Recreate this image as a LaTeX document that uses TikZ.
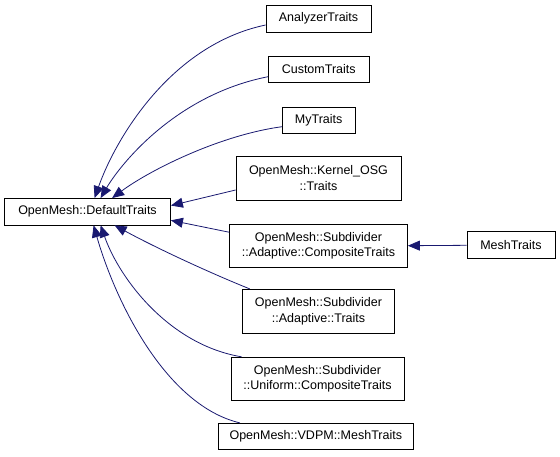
\documentclass[tikz,border=0pt]{standalone}
\usepackage{fontspec}
\setmainfont{Liberation Sans}
\usetikzlibrary{arrows.meta}
\definecolor{edgecol}{HTML}{191970}
\begin{document}
\begin{tikzpicture}[x=1pt,y=-1pt,
  box/.style={draw=black, line width=0.8pt, fill=white, inner sep=0pt, align=center,
    font=\fontsize{12.5}{15.3}\selectfont},
  edge/.style={draw=edgecol, line width=0.8pt, {Triangle[length=12pt,width=10pt]}-}]
\useasboundingbox (0,0) rectangle (560,456);
% nodes
\node[box, minimum width=166pt, minimum height=26.5pt] (def) at (87.5,211.7) {OpenMesh::DefaultTraits};
\node[box, minimum width=105pt, minimum height=27pt] (an) at (318.5,18.5) {AnalyzerTraits};
\node[box, minimum width=100.5pt, minimum height=26.5pt] (cu) at (318.7,69.2) {CustomTraits};
\node[box, minimum width=72.5pt, minimum height=26.5pt] (my) at (318.7,120.2) {MyTraits};
\node[box, minimum width=165pt, minimum height=44pt] (ko) at (318.5,178) {OpenMesh::Kernel\_OSG\\::Traits};
\node[box, minimum width=178pt, minimum height=43.5pt] (ac) at (318.5,245.7) {OpenMesh::Subdivider\\::Adaptive::CompositeTraits};
\node[box, minimum width=88pt, minimum height=27pt] (mt) at (511,245.3) {MeshTraits};
\node[box, minimum width=151.6pt, minimum height=44pt] (at) at (318.5,311.3) {OpenMesh::Subdivider\\::Adaptive::Traits};
\node[box, minimum width=173pt, minimum height=43pt] (uc) at (317.5,378.7) {OpenMesh::Subdivider\\::Uniform::CompositeTraits};
\node[box, minimum width=195pt, minimum height=26pt] (vd) at (315.8,436.3) {OpenMesh::VDPM::MeshTraits};
% arrow tips on DefaultTraits
\coordinate (t1) at ([xshift=90.5pt]def.north west);
\coordinate (t2) at ([xshift=96.5pt]def.north west);
\coordinate (t3) at ([xshift=108pt]def.north west);
\coordinate (t4) at ([yshift=-7.5pt]def.north east);
\coordinate (t5) at ([yshift=5pt]def.south east);
\coordinate (t6) at ([xshift=110.5pt]def.south west);
\coordinate (t7) at ([xshift=96.5pt]def.south west);
\coordinate (t8) at ([xshift=89.5pt]def.south west);
% edges
\draw[edge] (t1) .. controls (115,140) and (170,45) .. ([yshift=-6.5pt]an.west);
\draw[edge] (t2) .. controls (120,165) and (175,95) .. ([yshift=-7.5pt]cu.west);
\draw[edge] (t3) .. controls (150,170) and (220,135) .. ([yshift=-6.5pt]my.west);
\draw[edge] (t4) -- ([yshift=-12pt]ko.west);
\draw[edge] (t5) -- ([yshift=13.5pt]ac.west);
\draw[edge] (ac.east) -- (mt.west);
\draw[edge] (t6) .. controls (160,250) and (215,275) .. ([xshift=7.5pt]at.north west);
\draw[edge] (t7) .. controls (120,280) and (170,345) .. ([xshift=11pt]uc.north west);
\draw[edge] (t8) .. controls (115,300) and (165,405) .. ([xshift=22pt]vd.north west);
\end{tikzpicture}
\end{document}
